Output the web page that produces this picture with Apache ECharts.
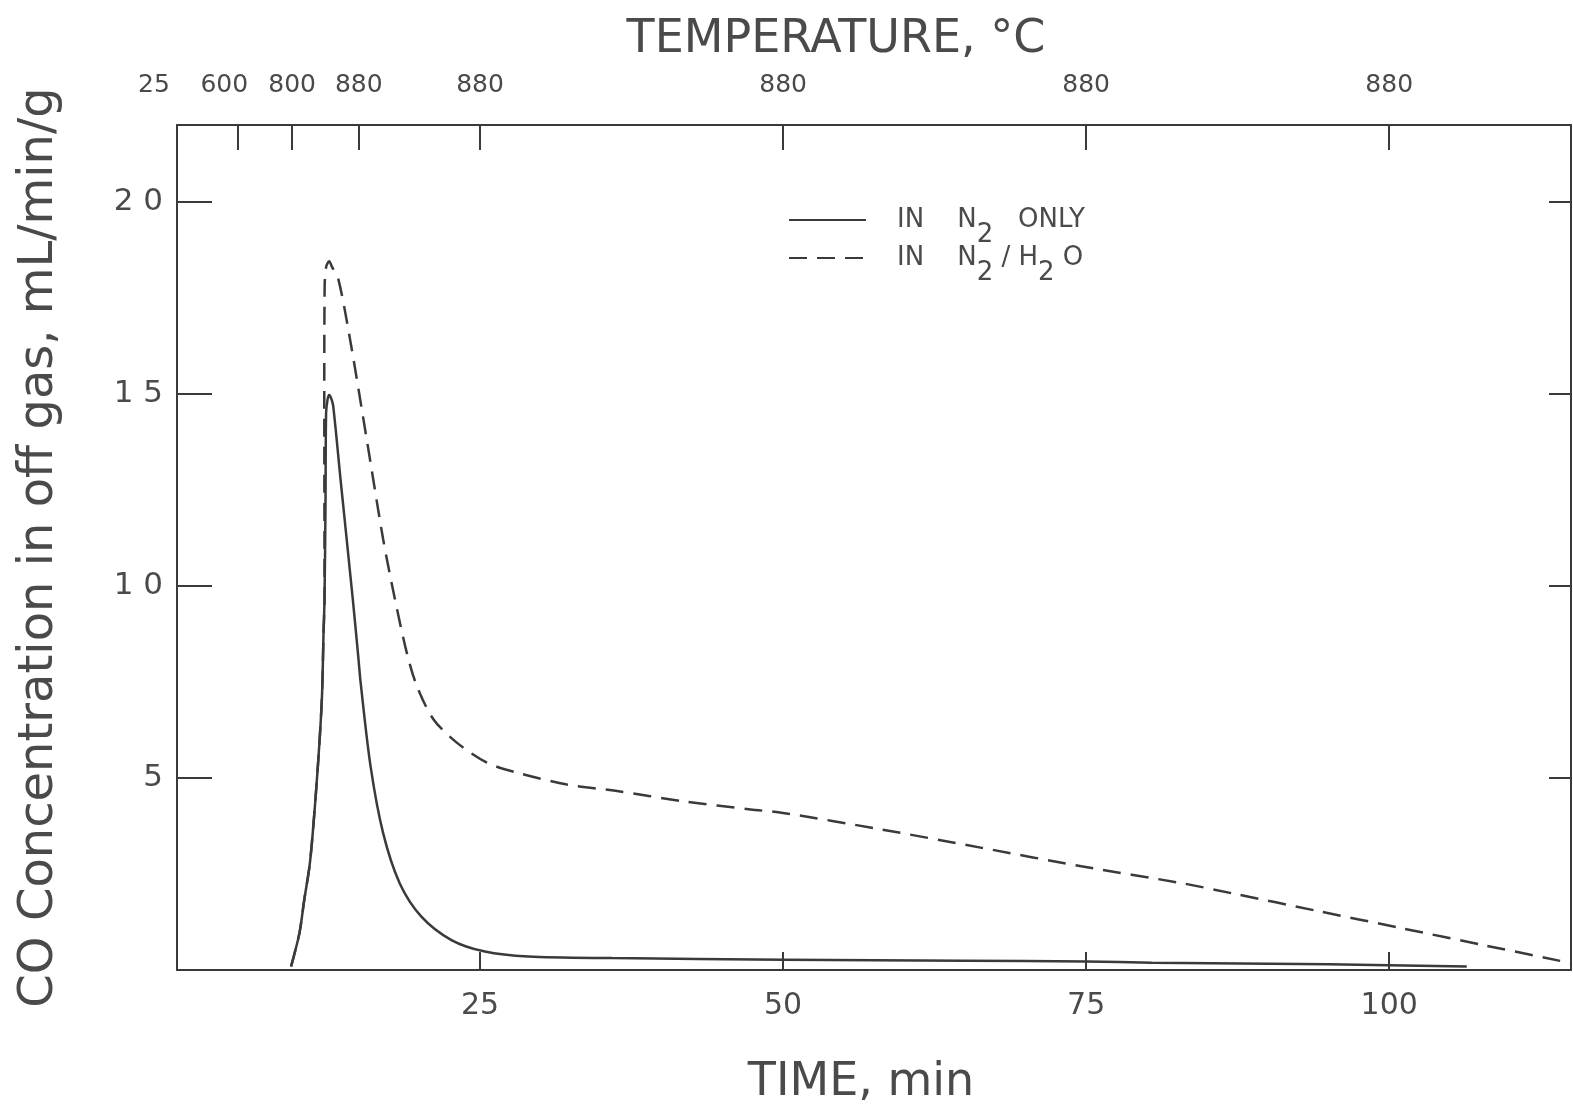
<!DOCTYPE html>
<html>
<head>
<meta charset="utf-8">
<script src="https://cdn.jsdelivr.net/npm/echarts@6/dist/echarts.min.js"></script>
<style>
html,body{margin:0;padding:0;background:#fff;}
#chart{width:1573px;height:1105px;}
</style>
</head>
<body>
<div id="chart"></div>
<script>
// ---- data (time in min, CO concentration in mL/min/g) ----
const n2OnlyTime = [9.41, 10.1, 10.5, 10.93, 11.2, 11.62, 11.95, 12.09, 12.17, 12.25, 12.3, 12.42, 12.55, 12.7, 12.88, 13.5, 14.5, 14.95, 15.15, 15.97, 17.0, 18.37, 20.16, 22.64, 25.4, 28.97, 35.9, 50, 65, 75, 80.4, 95, 106.4];
const n2OnlyCO   = [0.09, 0.96, 1.83, 2.7, 3.57, 5.3, 7.05, 8.79, 9.66, 12.1, 14.5, 14.85, 14.97, 14.9, 14.7, 12.75, 9.66, 8.17, 7.48, 5.3, 3.57, 2.26, 1.39, 0.78, 0.48, 0.35, 0.31, 0.27, 0.24, 0.22, 0.19, 0.15, 0.09];

const n2h2oTime = [9.41, 10.1, 10.5, 10.93, 11.2, 11.62, 11.95, 12.09, 12.17, 12.15, 12.18, 12.3, 12.55, 12.8, 13.3, 14.26, 15.64, 17.0, 17.95, 18.95, 19.78, 21.15, 23.08, 25.56, 28.04, 32.17, 36.3, 41.8, 47.3, 50.0, 58.1, 66.4, 74.6, 82.9, 87.3, 94.2, 101.0, 107.9, 115];
const n2h2oCO   = [0.09, 0.96, 1.83, 2.7, 3.57, 5.3, 7.05, 8.79, 9.66, 15.0, 17.8, 18.3, 18.45, 18.3, 18.0, 16.45, 13.84, 11.23, 9.7, 8.27, 7.4, 6.53, 5.92, 5.4, 5.14, 4.83, 4.66, 4.39, 4.18, 4.09, 3.66, 3.18, 2.7, 2.26, 1.98, 1.53, 1.09, 0.64, 0.18];

// ---- axes ----
const timeTicks = [25, 50, 75, 100];
const coTicks = [5, 10, 15, 20];
const tempTickTimes = [5, 9.5, 15, 25, 50, 75, 100];
const tempLabelTimes = [0, 3.9, 9.5, 15, 25, 50, 75, 100];
const tempLabels = ['25', '600', '800', '880', '880', '880', '880', '880'];

const seriesNames = ['IN N\u2082 ONLY', 'IN N\u2082/H\u2082O'];
const legendRich = {
  'IN N\u2082 ONLY': 'IN    N{s|2}   ONLY',
  'IN N\u2082/H\u2082O': 'IN    N{s|2} / H{s|2} O'
};

const ink = '#3a3a3a';
const textInk = '#4a4a4a';
const fontMain = 'DejaVu Sans';
const bottomTickReach = 0.45; // inward tick height on the time axis, in y-axis units

const chart = echarts.init(document.getElementById('chart'), null, {renderer: 'canvas'});
chart.setOption({
  animation: false,
  backgroundColor: '#ffffff',
  grid: {left: 177, right: 2, top: 125, bottom: 135, containLabel: false, outerBoundsContain: 'axisLabel'},
  legend: {
    orient: 'vertical',
    left: 783,
    top: 187,
    itemWidth: 77,
    itemHeight: 14,
    itemGap: -18,
    data: seriesNames,
    formatter: name => legendRich[name],
    itemStyle: {opacity: 0},
    textStyle: {
      color: textInk,
      fontFamily: fontMain,
      fontSize: 26,
      lineHeight: 56,
      padding: [0, 0, 0, 26],
      rich: {
        s: {fontFamily: fontMain, fontSize: 26, lineHeight: 24, verticalAlign: 'bottom', color: textInk}
      }
    }
  },
  xAxis: [
    {
      type: 'value', position: 'bottom', min: 0, max: 115,
      name: 'TIME, min', nameLocation: 'middle', nameGap: 90,
      nameTextStyle: {fontFamily: fontMain, fontSize: 46, color: textInk, padding: [0, 26, 0, 0]},
      axisLine: {show: true, onZero: false, lineStyle: {color: ink, width: 2}},
      axisTick: {show: true, inside: true, length: 18, customValues: timeTicks, lineStyle: {color: ink, width: 2}},
      axisLabel: {show: true, customValues: timeTicks, margin: 21, fontFamily: fontMain, fontSize: 30, color: textInk},
      splitLine: {show: false}
    },
    {
      type: 'value', position: 'top', min: 0, max: 115,
      name: 'TEMPERATURE, \u00B0C', nameLocation: 'middle', nameGap: 62,
      nameTextStyle: {fontFamily: fontMain, fontSize: 46, color: textInk, padding: [0, 76, 0, 0]},
      axisLine: {show: true, onZero: false, lineStyle: {color: ink, width: 2}},
      axisTick: {show: true, inside: true, length: 25, customValues: tempTickTimes, lineStyle: {color: ink, width: 2}},
      axisLabel: {
        show: true, customValues: tempLabelTimes, margin: 27, showMinLabel: true,
        fontFamily: fontMain, fontSize: 25, color: textInk,
        formatter: v => {
          const i = tempLabelTimes.indexOf(v);
          const t = i >= 0 ? tempLabels[i] : '';
          return i === 0 ? '{l|' + t + '}' : t;
        },
        rich: {l: {fontFamily: fontMain, fontSize: 25, color: textInk, padding: [0, 46, 0, 0]}}
      },
      splitLine: {show: false}
    }
  ],
  yAxis: [
    {
      type: 'value', position: 'left', min: 0, max: 22,
      name: 'CO Concentration in off gas, mL/min/g', nameLocation: 'middle', nameGap: 113,
      nameTextStyle: {fontFamily: fontMain, fontSize: 48, color: textInk},
      axisLine: {show: true, onZero: false, lineStyle: {color: ink, width: 2}},
      axisTick: {show: true, inside: true, length: 35, customValues: coTicks, lineStyle: {color: ink, width: 2}},
      axisLabel: {
        show: true, customValues: coTicks, margin: 14,
        fontFamily: fontMain, fontSize: 31, color: textInk,
        formatter: v => String(v).split('').join(' ')
      },
      splitLine: {show: false}
    },
    {
      type: 'value', position: 'right', min: 0, max: 22,
      axisLine: {show: true, onZero: false, lineStyle: {color: ink, width: 2}},
      axisTick: {show: true, inside: true, length: 22, customValues: coTicks, lineStyle: {color: ink, width: 2}},
      axisLabel: {show: false},
      splitLine: {show: false}
    }
  ],
  series: [
    {
      name: seriesNames[0], type: 'line', xAxisIndex: 0, yAxisIndex: 0,
      data: n2OnlyTime.map((t, i) => [t, n2OnlyCO[i]]),
      smooth: 0.3, showSymbol: false, symbol: 'none',
      lineStyle: {color: ink, width: 2.5, type: 'solid'},
      itemStyle: {color: ink},
      markLine: {
        silent: true,
        symbol: ['none', 'none'],
        label: {show: false},
        lineStyle: {color: ink, width: 2, type: 'solid'},
        emphasis: {disabled: true},
        data: timeTicks.map(t => [{coord: [t, 0]}, {coord: [t, bottomTickReach]}])
      }
    },
    {
      name: seriesNames[1], type: 'line', xAxisIndex: 0, yAxisIndex: 0,
      data: n2h2oTime.map((t, i) => [t, n2h2oCO[i]]),
      smooth: 0.3, showSymbol: false, symbol: 'none',
      lineStyle: {color: ink, width: 2.5, type: [18, 10]},
      itemStyle: {color: ink}
    }
  ]
});
</script>
</body>
</html>
